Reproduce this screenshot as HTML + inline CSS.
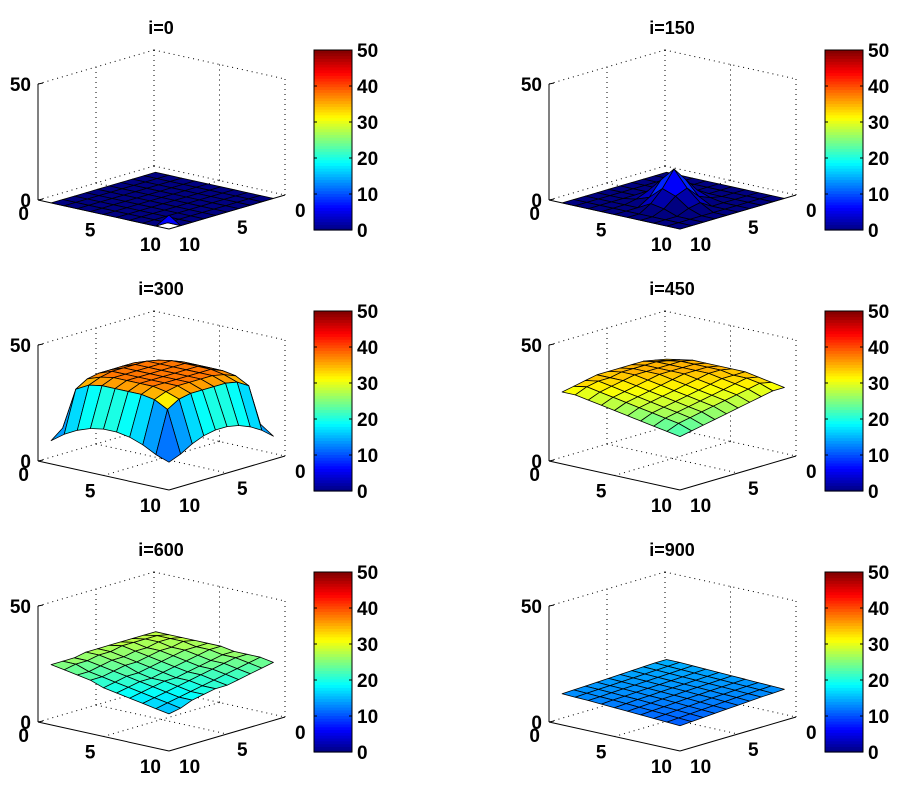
<!DOCTYPE html>
<html><head><meta charset="utf-8"><style>
html,body{margin:0;padding:0;background:#fff;}
svg text{font-family:"Liberation Sans",Arial,sans-serif;font-weight:bold;fill:#000;}
</style></head><body>
<svg id="fig" width="910" height="787" xmlns="http://www.w3.org/2000/svg"></svg>
<script>
const titles = ["i=0","i=150","i=300","i=450","i=600","i=900"];
const zTicks = [0, 50];
const xTicks = [0, 5, 10];
const cbTicks = [0, 10, 20, 30, 40, 50];
const Z0 = [
[0,0,0,0,0,0,0,0,0,0],[0,0,0,0,0,0,0,0,0,0],[0,0,0,0,0,0,0,0,0,0],[0,0,0,0,0,0,0,0,0,0],[0,0,0,0,0,0,0,0,0,0],
[0,0,0,0,0,0,0,0,0,0],[0,0,0,0,0,0,0,0,0,0],[0,0,0,0,0,0,0,0,0,0],[0,0,0,0,0,0,0,0,0,0],[0,0,0,0,0,0,0,0,0,6]];
const Z150 = [
[0,0,0,0,0,0,0,0,0,0],[0,0,0,0,0,0,0,0,0,0],[0,0,0,0,0,0,0,0,0,0],[0,0,0,1,3,3,1,0,0,0],[0,0,0,3,8,9,3,0,0,0],
[0,0,0,3,9,15,8,3,0,0],[0,0,0,1,3,8,6,2,0,0],[0,0,0,0,0,3,2,0,0,0],[0,0,0,0,0,0,0,0,0,0],[0,0,0,0,0,0,0,0,0,0]];
const Z300 = [
[10,14,17,19,20,20,19,17,14,10],
[14,32,35,36,36,36,36,35,32,14],
[17,35,37,38,38,38,38,37,35,17],
[19,36,38,38,38,38,38,38,36,19],
[20,36,38,38,38,38,38,38,36,20],
[20,36,38,38,38,38,38,38,36,20],
[19,36,38,38,38,38,38,38,36,19],
[17,35,37,38,38,38,38,37,35,17],
[14,32,35,36,36,36,36,35,32,14],
[10,14,17,19,20,20,19,17,14,12]];
const Z450 = [
[32,33,34,34,34,34,34,33,32,31],
[33,34,35,35,35,35,34,34,33,31],
[34,35,35,35,35,35,34,33,32,30],
[34,35,35,35,35,34,33,32,31,29],
[34,35,35,35,34,33,32,31,30,28],
[34,35,35,34,33,32,31,30,29,27],
[34,34,34,33,32,31,30,29,28,26],
[33,34,33,32,31,30,29,28,27,25],
[32,33,32,31,30,29,28,27,26,24],
[31,31,30,29,28,27,26,25,24,23]];
const Z600 = [
[27,27,27,27,27,27,27,26,26,26],
[27,28,28,28,28,27,27,26,26,25],
[27,28,28,27,27,26,26,25,24,24],
[27,28,27,27,26,25,25,24,23,23],
[27,27,27,26,25,24,23,23,22,21],
[27,27,26,25,24,23,22,22,21,20],
[26,26,25,24,23,22,22,21,20,19],
[26,26,25,24,23,22,21,20,19,18],
[26,25,24,23,22,21,20,19,18,17],
[25,24,23,22,21,21,20,19,17,16]];
const Z900 = [
[15,15,14.8,14.6,14.4,14.2,14,13.8,13.6,13.4],
[15,14.8,14.6,14.4,14.2,14,13.8,13.6,13.4,13.2],
[14.8,14.6,14.4,14.2,14,13.8,13.6,13.4,13.2,13],
[14.6,14.4,14.2,14,13.8,13.6,13.4,13.2,13,12.7],
[14.4,14.2,14,13.8,13.6,13.4,13.2,13,12.7,12.4],
[14.2,14,13.8,13.6,13.4,13.2,13,12.7,12.4,12.1],
[14,13.8,13.6,13.4,13.2,13,12.7,12.4,12.1,11.8],
[13.8,13.6,13.4,13.2,13,12.7,12.4,12.1,11.8,11.5],
[13.6,13.4,13.2,13,12.7,12.4,12.1,11.8,11.5,11.2],
[13.4,13.2,13,12.7,12.4,12.1,11.8,11.5,11.2,10.9]];
const datasets = [Z0, Z150, Z300, Z450, Z600, Z900];

const NS = "http://www.w3.org/2000/svg";
const svg = document.getElementById('fig');
function mk(tag, attrs, parent){
  const e = document.createElementNS(NS, tag);
  for (const k in attrs) e.setAttribute(k, attrs[k]);
  (parent||svg).appendChild(e);
  return e;
}
function jet(v){
  const t = Math.max(0, Math.min(1, v/50));
  const c = x => Math.round(255*Math.max(0, Math.min(1, x)));
  return `rgb(${c(1.5-Math.abs(4*t-3))},${c(1.5-Math.abs(4*t-2))},${c(1.5-Math.abs(4*t-1))})`;
}
const B = [154,166], RB = [131,29], LB = [-116,34], ZS = 116/50;
function proj(u,v,z,ox,oy){
  return [ox + B[0] + u/10*RB[0] + v/10*LB[0], oy + B[1] + u/10*RB[1] + v/10*LB[1] - z*ZS];
}
function txt(s, x, y, anchor, size, parent, name){
  const t = mk('text', {x:x, y:y, 'text-anchor':anchor, 'font-size':size}, parent);
  
  
  t.textContent = s;
  return t;
}

datasets.forEach((Z, p) => {
  const ox = (p % 2) * 511, oy = Math.floor(p / 2) * 261;
  const g = mk('g', {});
  
  
  const P = (u,v,z) => proj(u,v,z,ox,oy);
  const line = (a,b,dash,name) => {
    const l = mk('line', {x1:a[0], y1:a[1], x2:b[0], y2:b[1], stroke:'#000', 'stroke-width':1, 'stroke-dasharray': dash ? '1 4' : 'none'}, g);
    
    
  };
  const zmax = zTicks[zTicks.length-1];
  line(P(0,0,0), P(0,0,zmax), true, 'grid-line');
  line(P(10,0,0), P(10,0,zmax), true, 'grid-line');
  line(P(0,0,zmax), P(10,0,zmax), true, 'grid-line');
  line(P(0,0,zmax), P(0,10,zmax), true, 'grid-line');
  line(P(0,0,0), P(10,0,0), true, 'grid-line');
  line(P(0,0,0), P(0,10,0), true, 'grid-line');
  line(P(5,0,0), P(5,0,zmax), true, 'grid-line');
  line(P(0,5,0), P(0,5,zmax), true, 'grid-line');
  line(P(5,0,0), P(5,10,0), true, 'grid-line');
  line(P(0,5,0), P(10,5,0), true, 'grid-line');
  line(P(0,10,0), P(0,10,zmax), false, 'z-axis');
  line(P(0,10,0), P(10,10,0), false, 'x-axis');
  line(P(10,10,0), P(10,0,0), false, 'y-axis');
  zTicks.forEach(t => { const a = P(0,10,t); line(a, [a[0]+5, a[1]-1], false, 'z-tick'); });
  const facets = [];
  for (let i = 0; i < 9; i++) for (let j = 0; j < 9; j++) facets.push([i,j]);
  facets.sort((a,b) => (a[0]+a[1]) - (b[0]+b[1]));
  facets.forEach(([i,j]) => {
    const pts = [P(i+1,j+1,Z[i][j]), P(i+2,j+1,Z[i+1][j]), P(i+2,j+2,Z[i+1][j+1]), P(i+1,j+2,Z[i][j+1])];
    const f = mk('polygon', {points: pts.map(q => q[0].toFixed(1)+','+q[1].toFixed(1)).join(' '),
      fill: jet(Z[i+1][j+1]), stroke:'#000', 'stroke-width':0.8, 'stroke-linejoin':'round'}, g);
    
    
  });
  txt(titles[p], ox+161, oy+34, 'middle', 18, g, 'subplot-title');
  zTicks.forEach(t => { const a = P(0,10,t); txt(String(t), a[0]-7, a[1]+7, 'end', 19, g, 'z-tick-label'); });
  xTicks.forEach(t => { const a = P(t,10,0); txt(String(t), a[0]-8 - (t===0?1:0), a[1]+ (t===0?20:22), 'end', 19, g, 'x-tick-label'); });
  xTicks.forEach(t => { const a = P(10,t,0); txt(String(t), a[0]+10, a[1]+22, 'start', 19, g, 'y-tick-label'); });
  const cb = mk('g', {}, g);
  
  
  const cx = ox+314, cy = oy+50, cw = 38, ch = 180, n = 64;
  for (let k = 0; k < n; k++) {
    const r = mk('rect', {x:cx, y:(cy + ch - (k+1)*ch/n).toFixed(2), width:cw, height:(ch/n+0.6).toFixed(2), fill: jet((k+0.5)/n*50)}, cb);
    
    
  }
  const bd = mk('rect', {x:cx, y:cy, width:cw, height:ch, fill:'none', stroke:'#000', 'stroke-width':1}, cb);
  
  
  cbTicks.forEach(t => {
    const y = cy + ch - t/50*ch;
    line([cx, y], [cx+3, y], false, 'colorbar-tick');
    line([cx+cw-3, y], [cx+cw, y], false, 'colorbar-tick');
    txt(String(t), cx+cw+5, y+7, 'start', 19, cb, 'colorbar-tick-label');
  });
});
</script>
</body></html>
